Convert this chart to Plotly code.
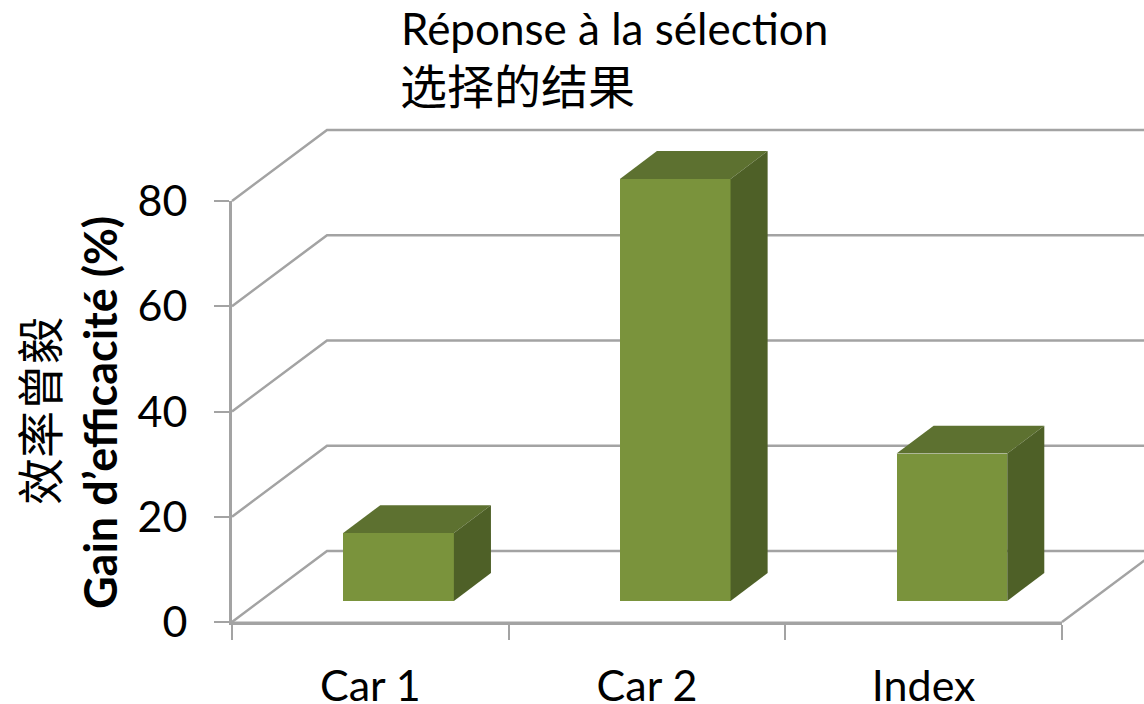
import plotly.graph_objects as go

categories = ["Car 1", "Car 2", "Index"]
values = [12.9, 80.2, 28.0]
y_ticks = [0, 20, 40, 60, 80]
title_fr = "Réponse à la sélection"
title_zh = "选择的结果"
ylabel_zh = "效率曾毅"
ylabel_fr = "<b>Gain d’efficacité (%)</b>"

FONT = "Lato, Carlito, Calibri, sans-serif"
CJK = "Noto Sans CJK SC"
GRID = "#A3A3A3"
FRONT, TOP, SIDE = "#7A933C", "#5D7130", "#4E6027"

W, H = 1144, 704
LEFT, RIGHT, TOP_PX, BOTTOM = 232, 1062, 201, 622
X_SCALE = (RIGHT - LEFT) / 3
Y_SCALE = (BOTTOM - TOP_PX) / 80

WALL_DX, WALL_DY = 0.3434, 13.5   # floor depth in axis units
BAR_W, BAR_OFF, BAR_BASE = 0.4, -0.098, 4.0
BAR_DX, BAR_DY = 0.134, 5.3

full_x = [-LEFT / X_SCALE, (W - LEFT) / X_SCALE]
full_y = [-(H - BOTTOM) / Y_SCALE, BOTTOM / Y_SCALE]
X_END = full_x[1] + 0.01

centers = [i + 0.5 for i in range(len(categories))]
fig = go.Figure()

# front edge of the floor: gives the visible axes a trace to belong to
fig.add_trace(go.Scatter(
    x=[0, 3], y=[0, 0], mode="lines", line=dict(color=GRID, width=1),
    hoverinfo="skip", showlegend=False, cliponaxis=False))

# back wall and floor lines (full-figure axes, beneath the bars)
for v in y_ticks:
    fig.add_trace(go.Scatter(
        x=[0, WALL_DX, X_END], y=[v, v + WALL_DY, v + WALL_DY], mode="lines",
        line=dict(color=GRID, width=2.5), xaxis="x2", yaxis="y2",
        hoverinfo="skip", showlegend=False))
fig.add_trace(go.Scatter(
    x=[3, 3 + WALL_DX], y=[0, WALL_DY], mode="lines",
    line=dict(color=GRID, width=2.5), xaxis="x2", yaxis="y2",
    hoverinfo="skip", showlegend=False))

# bars on an overlay so they sit above the lines
fig.add_trace(go.Bar(
    x=centers, y=values, base=BAR_BASE, width=BAR_W, offset=BAR_OFF,
    marker=dict(color=FRONT, line=dict(width=0)), xaxis="x3", yaxis="y3", showlegend=False,
    name="Gain"))
for c, v in zip(centers, values):
    x0 = c + BAR_OFF
    x1 = x0 + BAR_W
    y0 = BAR_BASE
    y1 = BAR_BASE + v
    fig.add_trace(go.Scatter(
        x=[x0, x1, x1 + BAR_DX, x0 + BAR_DX, x0], y=[y1, y1, y1 + BAR_DY, y1 + BAR_DY, y1],
        fill="toself", fillcolor=TOP, mode="lines", line=dict(width=0, color=TOP),
        xaxis="x3", yaxis="y3", hoverinfo="skip", showlegend=False))
    fig.add_trace(go.Scatter(
        x=[x1, x1 + BAR_DX, x1 + BAR_DX, x1, x1], y=[y0, y0 + BAR_DY, y1 + BAR_DY, y1, y0],
        fill="toself", fillcolor=SIDE, mode="lines", line=dict(width=0, color=SIDE),
        xaxis="x3", yaxis="y3", hoverinfo="skip", showlegend=False))

common = dict(showgrid=False, zeroline=False, fixedrange=True, automargin=False)
hidden = dict(visible=False, domain=[0, 1], **common)
fig.update_layout(
    width=W, height=H, autosize=False,
    margin=dict(l=0, r=0, t=0, b=0, pad=0, autoexpand=False),
    paper_bgcolor="white", plot_bgcolor="rgba(0,0,0,0)",
    font=dict(family=FONT, color="black"),
    bargap=0, showlegend=False,
    xaxis=dict(domain=[LEFT / W, RIGHT / W], range=[0, 3], anchor="y",
               tickmode="array", tickvals=centers, ticktext=categories,
               ticks="", ticklabelstandoff=24,
               tickfont=dict(family=FONT, size=43, color="black"),
               minor=dict(tickmode="array", tickvals=[0, 1, 2, 3], ticks="outside",
                          ticklen=15, tickwidth=2, tickcolor=GRID, showgrid=False),
               showline=True, linecolor=GRID, linewidth=3, **common),
    yaxis=dict(domain=[(H - BOTTOM) / H, (H - TOP_PX) / H], range=[0, 80], anchor="x",
               tickmode="array", tickvals=y_ticks, ticktext=[str(v) for v in y_ticks],
               ticks="outside", ticklen=15, tickwidth=2, tickcolor=GRID, ticklabelstandoff=18,
               tickfont=dict(family=FONT, size=43, color="black"),
               showline=True, linecolor=GRID, linewidth=3, **common),
    xaxis2=dict(range=full_x, anchor="y2", **hidden),
    yaxis2=dict(range=full_y, anchor="x2", **hidden),
    xaxis3=dict(range=full_x, anchor="y3", overlaying="x2", **hidden),
    yaxis3=dict(range=full_y, anchor="x3", overlaying="y2", **hidden),
)

def ann(text, x, y, size, family, anchor="center", angle=0):
    return dict(x=x / W, y=1 - y / H, xref="paper", yref="paper", text=text, showarrow=False,
                xanchor=anchor, yanchor="middle", textangle=angle,
                font=dict(family=family, size=size, color="black"))

fig.update_layout(annotations=[
    ann(title_fr, 399, 28, 44, FONT, "left"),
    ann(title_zh, 398, 83, 47, CJK, "left"),
    ann(ylabel_zh, 37, 411, 47, CJK, angle=-90),
    ann(ylabel_fr, 100, 413, 45, FONT, angle=-90),
])

fig.write_html("out.html", config={"displayModeBar": False},
               post_script="document.body.style.margin='0';")
